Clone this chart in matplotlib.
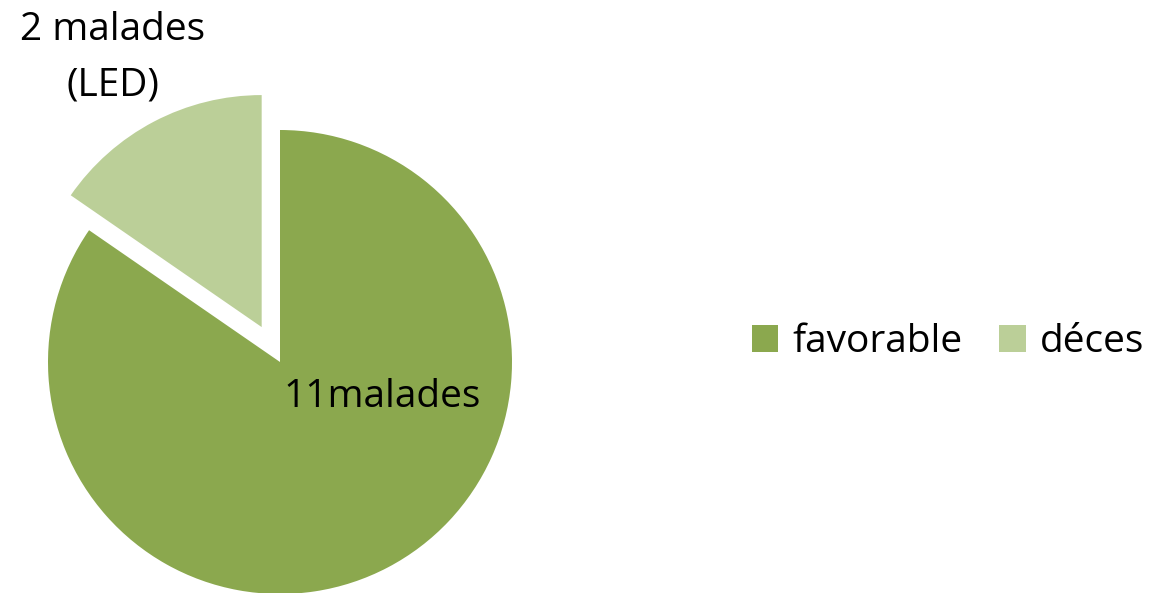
import matplotlib.pyplot as plt

# --- Data ---
categories = ['favorable', 'déces']
counts = [11, 2]
labels = ['11malades', '2 malades\n(LED)']
colors = ['#8BA84E', '#BBCF98']

plt.rcParams['font.family'] = ['Open Sans', 'DejaVu Sans']

fig = plt.figure(figsize=(11.69, 5.93), dpi=100)
ax = fig.add_axes([0, 0, 1, 1])

wedges, _ = ax.pie(counts, colors=colors, startangle=90, counterclock=False,
                   explode=[0, 0.17], radius=1.0, center=(0, 0),
                   wedgeprops=dict(linewidth=0), frame=True)

# pie centre sits at (280, 362) px with a 232 px radius
px = 232.0
ax.set_xlim(-280 / px, (1169 - 280) / px)
ax.set_ylim((362 - 593) / px, 362 / px)
ax.set_aspect('auto')
ax.axis('off')

ax.text(0.44, -0.15, labels[0], ha='center', va='center', fontsize=28, color='black')
ax.text(-0.72, 1.31, labels[1], ha='center', va='center', fontsize=28,
        color='black', linespacing=1.6)

fig.legend(wedges, categories, loc='center', bbox_to_anchor=(0.811, 0.4233),
           ncol=2, frameon=False, fontsize=28, handlelength=0.68, handleheight=0.68,
           handletextpad=0.36, columnspacing=0.95)

fig.savefig('out.png', dpi=100)
